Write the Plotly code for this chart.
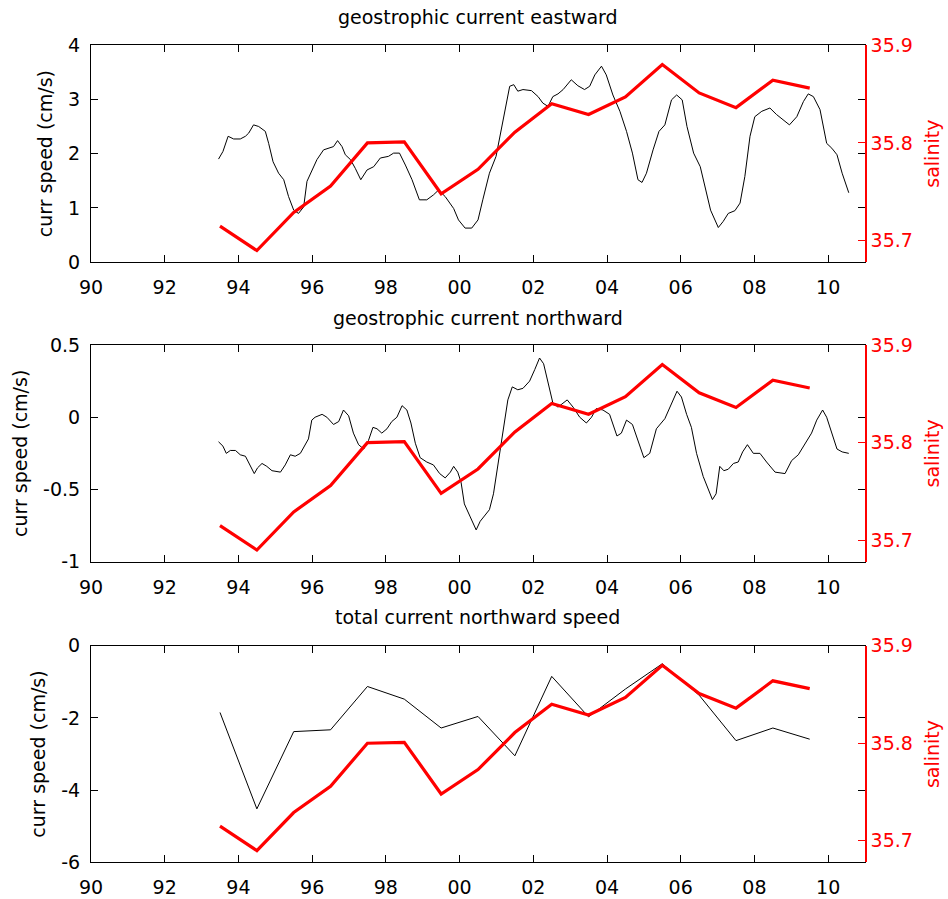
import plotly.graph_objects as go

# ---- data -------------------------------------------------------------
# annual salinity (mid-year samples)
sal_years = [1993.5, 1994.5, 1995.5, 1996.5, 1997.5, 1998.5, 1999.5, 2000.5,
             2001.5, 2002.5, 2003.5, 2004.5, 2005.5, 2006.5, 2007.5, 2008.5, 2009.5]
salinity = [35.715, 35.690, 35.729, 35.756, 35.800, 35.801, 35.748, 35.773,
            35.811, 35.840, 35.829, 35.847, 35.880, 35.851, 35.836, 35.864, 35.856]

# geostrophic current, eastward component (years since 1990, cm/s)
east_t = [3.46, 3.58, 3.72, 3.87, 4.05, 4.19, 4.28, 4.41, 4.55, 4.73, 4.82, 4.94,
          5.09, 5.23, 5.36, 5.50, 5.63, 5.77, 5.86, 6.00, 6.13, 6.31, 6.45, 6.58,
          6.69, 6.81, 6.90, 7.04, 7.17, 7.32, 7.49, 7.67, 7.85, 8.07, 8.21, 8.37,
          8.53, 8.71, 8.91, 9.11, 9.29, 9.43, 9.61, 9.84, 9.97, 10.15, 10.33, 10.50,
          10.63, 10.81, 10.99, 11.13, 11.27, 11.36, 11.47, 11.58, 11.72, 11.95, 12.13,
          12.26, 12.40, 12.53, 12.67, 12.81, 13.03, 13.21, 13.39, 13.53, 13.67, 13.85,
          13.98, 14.16, 14.35, 14.53, 14.69, 14.84, 14.95, 15.07, 15.25, 15.41, 15.57,
          15.75, 15.89, 16.04, 16.17, 16.35, 16.53, 16.66, 16.81, 17.02, 17.15, 17.29,
          17.47, 17.61, 17.74, 17.88, 18.01, 18.20, 18.42, 18.60, 18.78, 18.95, 19.15,
          19.33, 19.46, 19.60, 19.78, 19.96, 20.10, 20.24, 20.38, 20.56]
east_v = [1.90, 2.04, 2.32, 2.27, 2.27, 2.32, 2.38, 2.53, 2.50, 2.41, 2.19, 1.85,
          1.64, 1.52, 1.21, 0.96, 0.90, 1.02, 1.49, 1.70, 1.89, 2.07, 2.10, 2.13,
          2.24, 2.13, 1.98, 1.89, 1.73, 1.52, 1.70, 1.76, 1.92, 1.95, 2.01, 2.01,
          1.79, 1.52, 1.15, 1.15, 1.24, 1.33, 1.21, 0.99, 0.78, 0.63, 0.63, 0.78,
          1.15, 1.64, 1.95, 2.44, 2.99, 3.24, 3.27, 3.15, 3.18, 3.16, 3.05,
          2.93, 2.87, 3.05, 3.10, 3.18, 3.36, 3.25, 3.18, 3.24, 3.45, 3.61,
          3.45, 3.08, 2.78, 2.41, 2.01, 1.52, 1.47, 1.64, 2.07, 2.41, 2.53,
          2.99, 3.08, 2.99, 2.50, 2.01, 1.76, 1.39, 0.96, 0.64, 0.75, 0.90,
          0.95, 1.09, 1.58, 2.32, 2.68, 2.78, 2.84, 2.72, 2.62, 2.53, 2.68,
          2.96, 3.10, 3.05, 2.81, 2.19, 2.10, 1.98, 1.64, 1.28]

# geostrophic current, northward component (years since 1990, cm/s)
north_t = [3.46, 3.58, 3.67, 3.78, 3.92, 4.05, 4.19, 4.32, 4.43, 4.52, 4.64, 4.77,
           4.91, 5.14, 5.27, 5.41, 5.54, 5.68, 5.81, 5.90, 5.99, 6.08, 6.27, 6.40,
           6.58, 6.72, 6.85, 6.99, 7.12, 7.26, 7.40, 7.53, 7.65, 7.76, 7.89, 8.03,
           8.16, 8.30, 8.44, 8.57, 8.68, 8.80, 8.93, 9.11, 9.29, 9.46, 9.61, 9.75,
           9.84, 9.95, 10.04, 10.13, 10.29, 10.45, 10.56, 10.68, 10.81, 10.92, 11.04,
           11.18, 11.31, 11.43, 11.58, 11.72, 11.90, 12.04, 12.17, 12.28, 12.40, 12.53,
           12.67, 12.81, 12.92, 13.08, 13.26, 13.44, 13.58, 13.71, 13.89, 14.07, 14.27,
           14.39, 14.53, 14.69, 14.84, 15.00, 15.16, 15.34, 15.57, 15.75, 15.90, 16.02,
           16.16, 16.29, 16.43, 16.61, 16.75, 16.86, 16.96, 17.06, 17.17, 17.29, 17.43,
           17.56, 17.68, 17.81, 17.97, 18.15, 18.33, 18.56, 18.83, 19.01, 19.19, 19.37,
           19.55, 19.69, 19.85, 19.96, 20.10, 20.24, 20.38, 20.56]
north_v = [-0.17, -0.20, -0.25, -0.23, -0.23, -0.26, -0.27, -0.34, -0.39, -0.35, -0.32, -0.34,
           -0.37, -0.38, -0.33, -0.26, -0.27, -0.25, -0.19, -0.15, -0.02, 0.00, 0.02, 0.00,
           -0.05, -0.03, 0.05, 0.01, -0.11, -0.19, -0.22, -0.16, -0.07, -0.08, -0.11, -0.08,
           -0.03, 0.00, 0.08, 0.05, -0.04, -0.18, -0.28, -0.31, -0.33, -0.39, -0.42, -0.38,
           -0.34, -0.38, -0.45, -0.60, -0.69, -0.78, -0.72, -0.68, -0.64, -0.53, -0.34,
           -0.11, 0.12, 0.21, 0.19, 0.20, 0.25, 0.33, 0.41, 0.37, 0.25, 0.10,
           0.07, 0.10, 0.12, 0.07, 0.00, -0.04, 0.00, 0.06, 0.05, 0.02, -0.13,
           -0.11, -0.02, -0.05, -0.16, -0.28, -0.25, -0.08, -0.01, 0.10, 0.18, 0.14,
           0.02, -0.07, -0.25, -0.41, -0.50, -0.57, -0.53, -0.34, -0.37, -0.36, -0.32,
           -0.31, -0.24, -0.19, -0.25, -0.25, -0.31, -0.38, -0.39, -0.30, -0.26, -0.18,
           -0.11, -0.02, 0.05, 0.00, -0.11, -0.22, -0.24, -0.25]

# total current, northward speed (annual, cm/s)
total_north = [-1.85, -4.52, -2.38, -2.33, -1.13, -1.48, -2.28, -1.96,
               -3.05, -0.85, -1.97, -1.20, -0.50, -1.37, -2.63, -2.28, -2.59]

panel_titles = ["geostrophic current eastward",
                "geostrophic current northward",
                "total current northward speed"]
x_tickvals = list(range(1990, 2011, 2))
x_ticktext = ["90", "92", "94", "96", "98", "00", "02", "04", "06", "08", "10"]
left_ranges = [[0, 4], [-1, 0.5], [-6, 0]]
left_ticks = [[0, 1, 2, 3, 4], [-1, -0.5, 0, 0.5], [-6, -4, -2, 0]]
left_ticktext = [["0", "1", "2", "3", "4"], ["-1", "-0.5", "0", "0.5"],
                 ["-6", "-4", "-2", "0"]]
sal_range = [35.678, 35.9]
sal_ticks = [35.7, 35.8, 35.9]
sal_ticktext = ["35.7", "35.8", "35.9"]

# ---- layout geometry ----------------------------------------------------
W, H = 948, 899
FONT = "DejaVu Sans"
FS = 19
x_dom = [91 / W, 865 / W]
panels_px = [(45, 262.3), (345, 561.7), (645.7, 862.3)]
y_doms = [[1 - b / H, 1 - t / H] for (t, b) in panels_px]
title_y_px = [17, 318, 617]

east_years = [1990 + t for t in east_t]
north_years = [1990 + t for t in north_t]
black_x = [east_years, north_years, sal_years]
black_y = [east_v, north_v, total_north]

fig = go.Figure()
layout = dict(
    width=W, height=H,
    margin=dict(l=0, r=0, t=0, b=0, autoexpand=False),
    paper_bgcolor="white", plot_bgcolor="white",
    showlegend=False,
    font=dict(family=FONT, size=FS, color="black"),
)
annotations = []

for i in range(3):
    xa = "x" if i == 0 else f"x{i + 1}"
    yl = f"y{2 * i + 1}" if i else "y"
    yr = f"y{2 * i + 2}"
    xkey = "xaxis" if i == 0 else f"xaxis{i + 1}"
    ylkey = "yaxis" if i == 0 else f"yaxis{2 * i + 1}"
    yrkey = f"yaxis{2 * i + 2}"

    fig.add_trace(go.Scatter(x=black_x[i], y=black_y[i], mode="lines",
                             line=dict(color="black", width=1),
                             xaxis=xa, yaxis=yl, hoverinfo="skip"))
    fig.add_trace(go.Scatter(x=sal_years, y=salinity, mode="lines",
                             line=dict(color="#ff0000", width=3.2),
                             xaxis=xa, yaxis=yr, hoverinfo="skip"))

    layout[xkey] = dict(
        domain=x_dom, anchor=yl, range=[1990, 2011], automargin=False,
        tickvals=x_tickvals, ticktext=x_ticktext,
        ticks="inside", ticklen=7, tickwidth=1, tickcolor="black",
        showline=True, linecolor="black", linewidth=1, mirror="ticks",
        showgrid=False, zeroline=False,
        tickfont=dict(family=FONT, size=FS, color="black"),
        ticklabelstandoff=8,
    )
    layout[ylkey] = dict(
        domain=y_doms[i], anchor=xa, range=left_ranges[i], automargin=False,
        tickvals=left_ticks[i], ticktext=left_ticktext[i],
        ticks="inside", ticklen=7, tickwidth=1, tickcolor="black",
        showline=True, linecolor="black", linewidth=1, mirror="ticks",
        showgrid=False, zeroline=False,
        tickfont=dict(family=FONT, size=FS, color="black"),
        ticklabelstandoff=6,
        title=dict(text="curr speed (cm/s)", standoff=10,
                   font=dict(family=FONT, size=FS, color="black")),
    )
    layout[yrkey] = dict(
        overlaying=yl, side="right", anchor=xa, range=sal_range, automargin=False,
        tickvals=sal_ticks, ticktext=sal_ticktext,
        ticks="inside", ticklen=7, tickwidth=1, tickcolor="#ff0000",
        showline=True, linecolor="#ff0000", linewidth=1.5,
        showgrid=False, zeroline=False,
        tickfont=dict(family=FONT, size=FS, color="#ff0000"),
        ticklabelstandoff=0,
        title=dict(text="salinity", standoff=14,
                   font=dict(family=FONT, size=FS, color="#ff0000")),
    )
    annotations.append(dict(
        text=panel_titles[i], xref="paper", yref="paper",
        x=(x_dom[0] + x_dom[1]) / 2, y=1 - title_y_px[i] / H,
        xanchor="center", yanchor="middle", showarrow=False,
        font=dict(family=FONT, size=FS, color="black"),
    ))

layout["annotations"] = annotations
fig.update_layout(**layout)
fig.write_html("out.html")
